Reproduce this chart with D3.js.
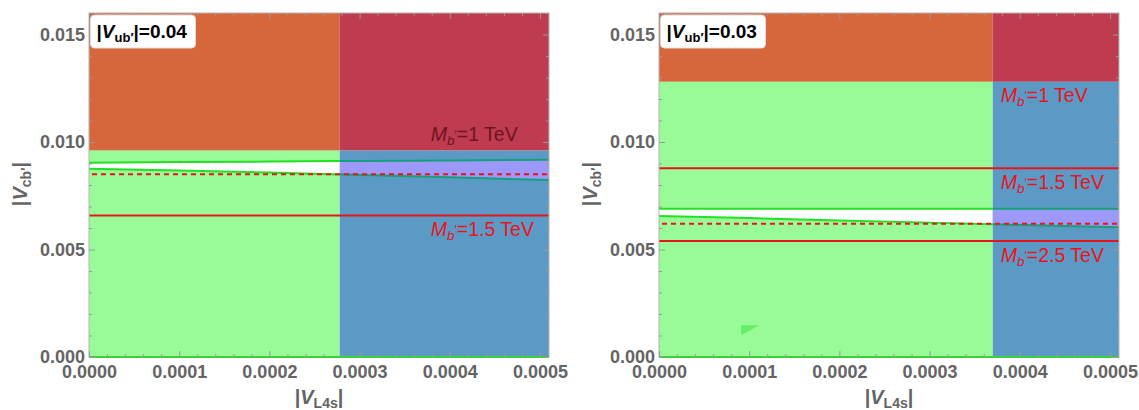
<!DOCTYPE html>
<html>
<head>
<meta charset="utf-8">
<script src="https://cdn.jsdelivr.net/npm/d3@7"></script>
<style>
  html, body { margin: 0; padding: 0; background: #fff; }
  svg { display: block; font-family: "Liberation Sans", Arial, sans-serif; }
</style>
</head>
<body>
<svg id="chart" width="1139" height="410"></svg>
<script>
// ---- data ----
const vubValues = ["0.04", "0.03"];
const xDomain = [0, 0.00051];
const yDomain = [0, 0.016];
const xTicks = [0, 0.0001, 0.0002, 0.0003, 0.0004, 0.0005];
const xTickLabels = ["0.0000", "0.0001", "0.0002", "0.0003", "0.0004", "0.0005"];
const yTicks = [0, 0.005, 0.010, 0.015];
const yTickLabels = ["0.000", "0.005", "0.010", "0.015"];

// |V_L4s| where the upper-bound regions switch, and |V_cb'| ceiling of the lower regions
const vl4sBoundary = [0.000278, 0.00037];
const vcbBoundary = [0.0096, 0.0128];

// allowed band between two contours
const bandX = [0, 0.0001, 0.0002, 0.0003, 0.0004, 0.00051];
const bandUpper = [
  [0.00904, 0.00907, 0.00909, 0.00912, 0.00914, 0.00917],
  [0.0069, 0.0069, 0.0069, 0.0069, 0.0069, 0.0069]
];
const bandLower = [
  [0.00876, 0.00867, 0.00858, 0.00847, 0.00836, 0.00823],
  [0.00656, 0.00646, 0.00635, 0.00625, 0.00614, 0.00603]
];
const dashedVcb = [0.0085, 0.0062];

// b' mass contours (TeV) and their |V_cb'| values
const massValues = [["1", "1.5"], ["1", "1.5", "2.5"]];
const massVcb = [[0.0096, 0.00658], [0.0128, 0.00878, 0.00539]];

// small sliver region in the second panel
const wedgeVl4s = [0.000091, 0.000111, 0.000091];
const wedgeVcb = [0.00148, 0.00148, 0.00101];

// ---- layout & style ----
const panelLeft = [89, 659];
const plotW = 460;
const plotTop = 13, plotBottom = 357;
const C = {
  orange: "#D6663C", crimson: "#BE3B50", green: "#98FB98", blue: "#5C9AC6",
  lavender: "#9D99FA", line: "#22E022", lineDark: "#14A078", red: "#E8141C",
  darkRed: "#6E1420", axis: "#9a9a9a", label: "#646464"
};

const svg = d3.select("#chart");
const defs = svg.append("defs");

vubValues.forEach((vub, p) => {
  const left = panelLeft[p], right = left + plotW;
  const x = d3.scaleLinear().domain(xDomain).range([left, right]);
  const y = d3.scaleLinear().domain(yDomain).range([plotBottom, plotTop]);
  const xb = vl4sBoundary[p], yb = vcbBoundary[p];

  const addClip = (id, x0, x1) => defs.append("clipPath").attr("id", id)
    .append("rect").attr("x", x(x0)).attr("y", plotTop)
    .attr("width", x(x1) - x(x0)).attr("height", plotBottom - plotTop);
  addClip("all" + p, xDomain[0], xDomain[1]);
  addClip("lo" + p, xDomain[0], xb);
  addClip("hi" + p, xb, xDomain[1]);

  const g = svg.append("g");
  const plot = g.append("g").attr("clip-path", `url(#all${p})`);

  const region = (x0, x1, y0, y1, fill) => plot.append("rect")
    .attr("x", x(x0)).attr("y", y(y1))
    .attr("width", x(x1) - x(x0)).attr("height", y(y0) - y(y1))
    .attr("fill", fill);
  region(xDomain[0], xb, yb, yDomain[1], C.orange);
  region(xb, xDomain[1], yb, yDomain[1], C.crimson);
  region(xDomain[0], xb, yDomain[0], yb, C.green);
  region(xb, xDomain[1], yDomain[0], yb, C.blue);

  const band = bandX.map((v, i) => ({ v, lo: bandLower[p][i], hi: bandUpper[p][i] }));
  const area = d3.area().x(d => x(d.v)).y0(d => y(d.lo)).y1(d => y(d.hi));
  plot.append("path").datum(band).attr("d", area).attr("fill", "#fff")
    .attr("clip-path", `url(#lo${p})`);
  plot.append("path").datum(band).attr("d", area).attr("fill", C.lavender)
    .attr("clip-path", `url(#hi${p})`);

  if (p === 1) {
    const wedge = wedgeVl4s.map((v, i) => [x(v), y(wedgeVcb[i])]);
    plot.append("path").attr("d", d3.line()(wedge) + "Z").attr("fill", "#66EE66");
  }

  // contour lines bounding the band
  ["lo", "hi"].forEach((side, s) => {
    const col = s === 0 ? C.line : C.lineDark;
    const cg = plot.append("g").attr("clip-path", `url(#${side}${p})`);
    [d => d.hi, d => d.lo].forEach(acc => {
      cg.append("path").datum(band)
        .attr("d", d3.line().x(d => x(d.v)).y(d => y(acc(d))))
        .attr("fill", "none").attr("stroke", col).attr("stroke-width", 2);
    });
  });

  // mass contour lines (the lowest mass coincides with the region edge)
  massVcb[p].forEach(v => {
    if (v === yb) return;
    plot.append("line").attr("x1", x(xDomain[0])).attr("x2", x(xDomain[1]))
      .attr("y1", y(v)).attr("y2", y(v))
      .attr("stroke", C.red).attr("stroke-width", 2);
  });
  plot.append("line").attr("x1", x(xDomain[0]) + 3).attr("x2", x(xDomain[1]))
    .attr("y1", y(dashedVcb[p])).attr("y2", y(dashedVcb[p]))
    .attr("stroke", C.red).attr("stroke-width", 2).attr("stroke-dasharray", "5,4");

  // frame
  g.append("rect").attr("x", left).attr("y", plotTop)
    .attr("width", plotW).attr("height", plotBottom - plotTop)
    .attr("fill", "none").attr("stroke", "#b4b4b4").attr("stroke-width", 1);
  g.append("line").attr("x1", left).attr("x2", right)
    .attr("y1", plotBottom).attr("y2", plotBottom)
    .attr("stroke", "#3CCF3C").attr("stroke-width", 2);

  // ticks
  const xMinor = d3.range(0, 26).map(i => i * 0.00002).filter((d, i) => i % 5 !== 0);
  const yMinor = d3.range(0, 17).map(i => i * 0.001).filter((d, i) => i % 5 !== 0);
  const styleAxis = sel => {
    sel.select(".domain").remove();
    sel.selectAll(".tick line").attr("stroke", C.axis);
    sel.selectAll(".tick text").attr("fill", C.label)
      .attr("font-size", 18).attr("font-weight", "bold")
      .attr("font-family", '"Liberation Sans", Arial, sans-serif');
  };
  g.append("g").attr("transform", `translate(0,${plotBottom})`)
    .call(d3.axisBottom(x).tickValues(xTicks).tickFormat((d, i) => xTickLabels[i])
      .tickSizeInner(-6).tickSizeOuter(0).tickPadding(8.5)).call(styleAxis);
  g.append("g").attr("transform", `translate(0,${plotBottom})`)
    .call(d3.axisBottom(x).tickValues(xMinor).tickFormat("").tickSizeInner(-3).tickSizeOuter(0)).call(styleAxis);
  g.append("g").attr("transform", `translate(0,${plotTop})`)
    .call(d3.axisTop(x).tickValues(xTicks).tickFormat("").tickSizeInner(-6).tickSizeOuter(0)).call(styleAxis);
  g.append("g").attr("transform", `translate(0,${plotTop})`)
    .call(d3.axisTop(x).tickValues(xMinor).tickFormat("").tickSizeInner(-3).tickSizeOuter(0)).call(styleAxis);
  g.append("g").attr("transform", `translate(${left},0)`)
    .call(d3.axisLeft(y).tickValues(yTicks).tickFormat((d, i) => yTickLabels[i])
      .tickSizeInner(-6).tickSizeOuter(0).tickPadding(4)).call(styleAxis);
  g.append("g").attr("transform", `translate(${left},0)`)
    .call(d3.axisLeft(y).tickValues(yMinor).tickFormat("").tickSizeInner(-3).tickSizeOuter(0)).call(styleAxis);
  g.append("g").attr("transform", `translate(${right},0)`)
    .call(d3.axisRight(y).tickValues(yTicks).tickFormat("").tickSizeInner(-6).tickSizeOuter(0)).call(styleAxis);
  g.append("g").attr("transform", `translate(${right},0)`)
    .call(d3.axisRight(y).tickValues(yMinor).tickFormat("").tickSizeInner(-3).tickSizeOuter(0)).call(styleAxis);

  // mass labels
  massValues[p].forEach((m, i) => {
    const above = p === 0 && i === 0;
    const t = g.append("text").attr("x", x(0.00038) - 1)
      .attr("y", y(massVcb[p][i]) + (above ? -9.5 : 20.5))
      .attr("font-size", 19.5).attr("fill", above ? C.darkRed : C.red);
    t.append("tspan").attr("font-style", "italic").text("M");
    t.append("tspan").attr("font-style", "italic").attr("font-size", 13.5).attr("dy", 4).text("b");
    t.append("tspan").attr("font-size", 12).attr("dy", -6).text("′");
    t.append("tspan").attr("dy", 2).text("=" + m + " TeV");
  });

  // |V_ub'| tag
  g.append("rect").attr("x", left + 1.5).attr("y", 15).attr("width", 105).attr("height", 33)
    .attr("rx", 4).attr("fill", "#fff").attr("stroke", "#dcdcdc");
  const tag = g.append("text").attr("x", left + 7.5).attr("y", 37.5)
    .attr("font-size", 19).attr("font-weight", "bold").attr("fill", "#000");
  tag.append("tspan").text("|");
  tag.append("tspan").attr("font-style", "italic").text("V");
  tag.append("tspan").attr("font-size", 13).attr("dy", 4).text("ub′");
  tag.append("tspan").attr("dy", -4).text("|=" + vub);

  // axis titles
  const xt = g.append("text").attr("x", (left + right) / 2).attr("y", 404)
    .attr("text-anchor", "middle").attr("font-size", 20).attr("font-weight", "bold").attr("fill", C.label);
  xt.append("tspan").text("|");
  xt.append("tspan").attr("font-style", "italic").text("V");
  xt.append("tspan").attr("font-size", 14).attr("dy", 4).text("L4s");
  xt.append("tspan").attr("dy", -4).text("|");

  const yt = g.append("text").attr("transform", `translate(${left - 62},184) rotate(-90)`)
    .attr("text-anchor", "middle").attr("font-size", 20).attr("font-weight", "bold").attr("fill", C.label);
  yt.append("tspan").text("|");
  yt.append("tspan").attr("font-style", "italic").text("V");
  yt.append("tspan").attr("font-size", 14).attr("dy", 4).text("cb′");
  yt.append("tspan").attr("dy", -4).text("|");
});
</script>
</body>
</html>
